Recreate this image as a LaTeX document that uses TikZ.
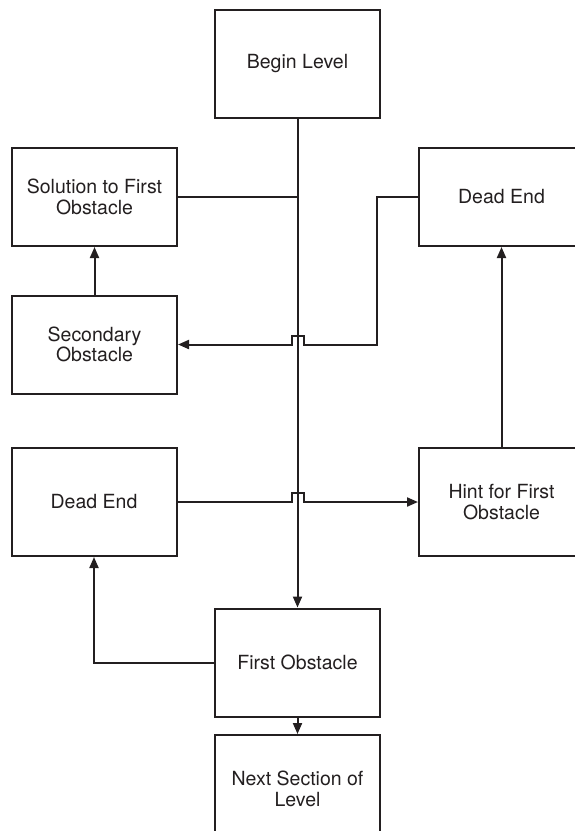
\documentclass[tikz,border=0pt]{standalone}
\usepackage{fontspec}
\setmainfont{TeX Gyre Heros}
\usetikzlibrary{positioning, arrows.meta, calc}
\definecolor{inkdark}{RGB}{35, 31, 32}
\tikzset{
  block/.style={
    draw=inkdark,
    line width=2pt,
    fill=white,
    minimum width=165pt,
    minimum height=98pt,
    inner sep=2pt,
    align=center,
    text=inkdark,
    font=\fontsize{19.5}{20.5}\selectfont
  },
  tall/.style={minimum height=108pt},
  flow/.style={
    -{Triangle[length=11pt,width=9pt]},
    line width=2pt,
    draw=inkdark
  },
  link/.style={
    line width=2pt,
    draw=inkdark
  }
}
\begin{document}
\begin{tikzpicture}[x=1pt, y=-1pt]
  \useasboundingbox (0,0) rectangle (575,831);

  % Boxes
  \node[block, tall] (begin) at (297.5,64) {Begin Level};
  \node[block] (solution) at (94.5,197) {Solution to First\\Obstacle};
  \node[block] (deadtop) at (501.5,197) {Dead End};
  \node[block] (secondary) at (94.5,344.5) {Secondary\\Obstacle};
  \node[block, tall] (deadlow) at (94,502) {Dead End};
  \node[block, tall] (hint) at (501.5,502) {Hint for First\\Obstacle};
  \node[block, tall] (first) at (297.5,662.5) {First Obstacle};
  \node[block, tall] (next) at (297.5,789) {Next Section of\\Level};

  % Main line
  \draw[flow] (begin.south) -- (first.north);
  \draw[link] (solution.east) -- (solution.east -| begin.south);
  \draw[flow] (first.south) -- (next.north);

  % Loops with jumps over the main line
  \coordinate (turn) at ($(deadtop.west)+(-41,0)$);
  \draw[flow] (deadtop.west) -- (turn) |- ($(begin.south |- secondary.east)+(6,0)$)
    -- ++(0,-9) -- ++(-12,0) -- ++(0,9) -- (secondary.east);
  \draw[flow] (secondary.north) -- (solution.south);
  \draw[flow] (deadlow.east) -- ($(begin.south |- deadlow.east)+(-6,0)$)
    -- ++(0,-9) -- ++(12,0) -- ++(0,9) -- (hint.west);
  \draw[flow] (hint.north) -- (deadtop.south);
  \draw[flow] (first.west) -| (deadlow.south);
\end{tikzpicture}
\end{document}
